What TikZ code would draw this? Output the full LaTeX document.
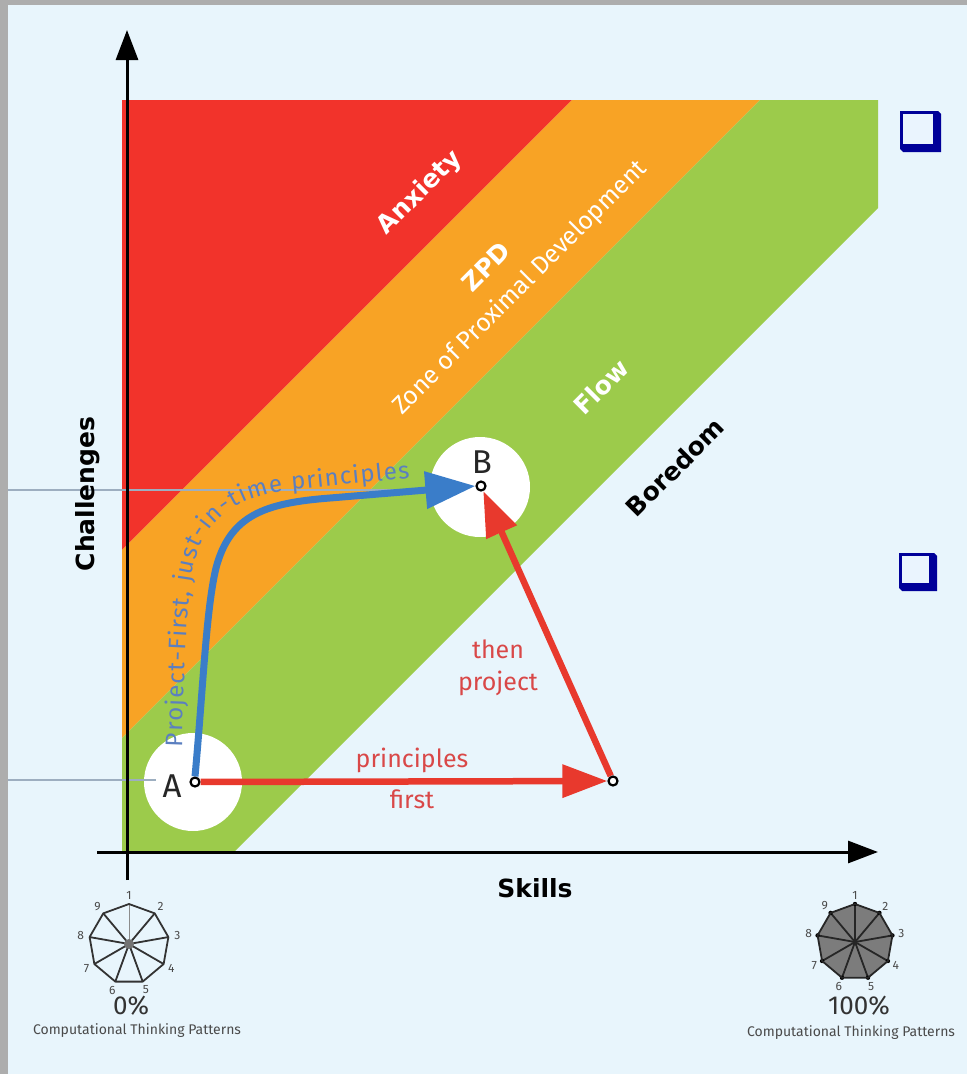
\documentclass[tikz,border=0pt]{standalone}
\usepackage{fontspec}
\setmainfont{Fira Sans}
\newfontfamily\heavy{DejaVu Sans}
\usetikzlibrary{arrows.meta,decorations.text,calc}
\definecolor{bg}{HTML}{E8F5FC}
\definecolor{frame}{HTML}{ADADAD}
\definecolor{anx}{HTML}{F2332B}
\definecolor{zpd}{HTML}{F8A325}
\definecolor{flow}{HTML}{9CCB4B}
\definecolor{redar}{HTML}{E8392D}
\definecolor{bluear}{HTML}{3A7DC9}
\definecolor{bluetxt}{HTML}{5B7FC0}
\definecolor{redtxt}{HTML}{D94848}
\definecolor{guide}{HTML}{9DAEC0}
\definecolor{cbblue}{HTML}{000099}
\definecolor{cbin}{HTML}{EAF4FE}
\definecolor{radfill}{HTML}{7C7C7C}
\definecolor{radline}{HTML}{333333}
\definecolor{txtgrey}{HTML}{4A4A4A}
\begin{document}
\begin{tikzpicture}[x=1pt,y=-1pt,
  bandlbl/.style={font=\heavy\bfseries\fontsize{25}{28}\selectfont, text=white, rotate=45, inner sep=0pt},
  zonelbl/.style={font=\fontsize{25}{28}\selectfont, text=white, rotate=45, inner sep=0pt},
  axislbl/.style={font=\heavy\bfseries\fontsize{25}{28}\selectfont, text=black, inner sep=0pt},
  redlbl/.style={font=\fontsize{25}{28}\selectfont, text=redtxt, inner sep=0pt},
  hole/.style={circle, fill=white, inner sep=0pt},
  pt/.style={circle, draw=black, fill=white, line width=2.2pt, minimum size=9pt, inner sep=0pt},
  ptlbl/.style={font=\fontsize{33}{36}\selectfont, text=black!85, inner sep=0pt},
  axisline/.style={line width=3pt, -{Triangle[length=30pt,width=22pt]}},
  redarrow/.style={draw=redar, line width=6.5pt, -{Triangle[length=45pt,width=32pt]}},
  bluearrow/.style={draw=bluear, line width=7pt, -{Triangle[length=50pt,width=36pt]}},
  guideline/.style={draw=guide, line width=1.2pt},
  radar/.style={draw=radline, line width=1.8pt, line join=round},
  num/.style={font=\fontsize{12}{12}\selectfont, text=txtgrey, inner sep=0pt},
  pct/.style={font=\fontsize{26}{28}\selectfont, text=black!80, inner sep=0pt},
  ctp/.style={font=\fontsize{14}{16}\selectfont, text=txtgrey, inner sep=0pt}
]
\useasboundingbox (0,0) rectangle (967,1074);
% background and frame
\fill[bg] (0,0) rectangle (967,1074);
\fill[frame] (0,0) rectangle (967,5);
\fill[frame] (0,0) rectangle (8,1074);

% bands
\fill[anx] (122,100) -- (572,100) -- (122,550) -- cycle;
\fill[zpd] (572,100) -- (760,100) -- (122,738) -- (122,550) -- cycle;
\fill[flow] (760,100) -- (878,100) -- (878,208) -- (234,852) -- (122,852) -- (122,738) -- cycle;

% white circles
\node[hole, minimum size=98pt] (holeA) at (193,782) {};
\node[hole, minimum size=100pt] (holeB) at (480,487) {};

% guide lines
\coordinate (g1a) at (8,490);
\coordinate (g1b) at (440,490);
\coordinate (g2a) at (8,780);
\coordinate (g2b) at (156,780);
\draw[guideline] (g1a) -- (g1b);
\draw[guideline] (g2a) -- (g2b);

% band labels
\node[bandlbl] (anxiety) at (420,193) {Anxiety};
\node[bandlbl] (zpdlbl) at (486,267) {ZPD};
\node[zonelbl] (zone) at (520,288) {Zone of Proximal Development};
\node[bandlbl] (flowlbl) at (601,387) {Flow};
\node[bandlbl, text=black] (bored) at (675,467) {Boredom};

% axes
\coordinate (yb) at (127,880);
\coordinate (yt) at (127,30);
\coordinate (xl) at (97,852);
\coordinate (xr) at (878,852);
\draw[axisline] (yb) -- (yt);
\draw[axisline] (xl) -- (xr);
\node[axislbl] (skills) at (535,888) {Skills};
\node[axislbl, rotate=90] (chall) at (88,494) {Challenges};

% points
\node[pt] (A) at (195,782) {};
\node[pt] (B) at (481,486) {};
\node[pt] (C) at (613,781) {};
\node[ptlbl] (Alab) at (172,786) {A};
\node[ptlbl] (Blab) at (482,462) {B};

% red arrows
\draw[redarrow] (A) -- (C);
\draw[redarrow] (C) -- (B);
\node[redlbl] (pr) at (412,760) {principles};
\node[redlbl] (fi) at (412,799) {first};
\node[redlbl] (th) at (498,649) {then};
\node[redlbl] (pj) at (498,683) {project};

% blue arrow
\draw[bluearrow] (A.north) .. controls (203,690) and (206,610) .. (216,568)
  .. controls (230,515) and (265,503) .. (330,498) -- (B.west);
\path[decorate, decoration={text along path, text align={fit to path},
  text={|\color{bluetxt}\fontsize{24}{24}\selectfont|Project-First, just-in-time principles}}]
  (182,747) .. controls (186,640) and (186,580) .. (200,545)
  .. controls (220,505) and (255,493) .. (300,489) -- (410,478);

% checkboxes
\fill[cbblue] (900,111) -- (938,111) -- (941,114) -- (941,152) -- (903,152) -- (900,149) -- cycle;
\fill[cbin] (903,114) rectangle (933,144);
\fill[cbblue] (899,553) -- (934,553) -- (937,556) -- (937,591) -- (902,591) -- (899,588) -- cycle;
\fill[cbin] (902,556) rectangle (929,583);

% left radar (0%)
\coordinate (L) at (129,944);
\foreach \k in {1,...,9} {
  \coordinate (L\k) at ($(L)+(40*\k-130:40)$);
  \node[num] at ($(L)+(40*\k-130:49)$) {\k};
}
\draw[draw=black!45, line width=1pt] (L) -- (L1);
\foreach \k in {2,...,9} { \draw[radar] (L) -- (L\k); }
\draw[radar] (L1) -- (L2) -- (L3) -- (L4) -- (L5) -- (L6) -- (L7) -- (L8) -- (L9) -- cycle;
\fill[black!55] (L) circle (5pt);
\node[pct] (p0) at (131,1006) {0\%};
\node[ctp] (c0) at (137,1031) {Computational Thinking Patterns};

% right radar (100%)
\coordinate (R) at (855,942);
\foreach \k in {1,...,9} {
  \coordinate (R\k) at ($(R)+(40*\k-130:38)$);
  \node[num] at ($(R)+(40*\k-130:47)$) {\k};
}
\fill[radfill] (R1) -- (R2) -- (R3) -- (R4) -- (R5) -- (R6) -- (R7) -- (R8) -- (R9) -- cycle;
\foreach \k in {1,...,9} { \draw[radar, draw=black!85] (R) -- (R\k); \fill[black] (R\k) circle (2.2pt); }
\draw[radar, draw=black!85] (R1) -- (R2) -- (R3) -- (R4) -- (R5) -- (R6) -- (R7) -- (R8) -- (R9) -- cycle;
\node[pct] (p100) at (859,1006) {100\%};
\node[ctp] (c100) at (851,1033) {Computational Thinking Patterns};
\end{tikzpicture}
\end{document}
